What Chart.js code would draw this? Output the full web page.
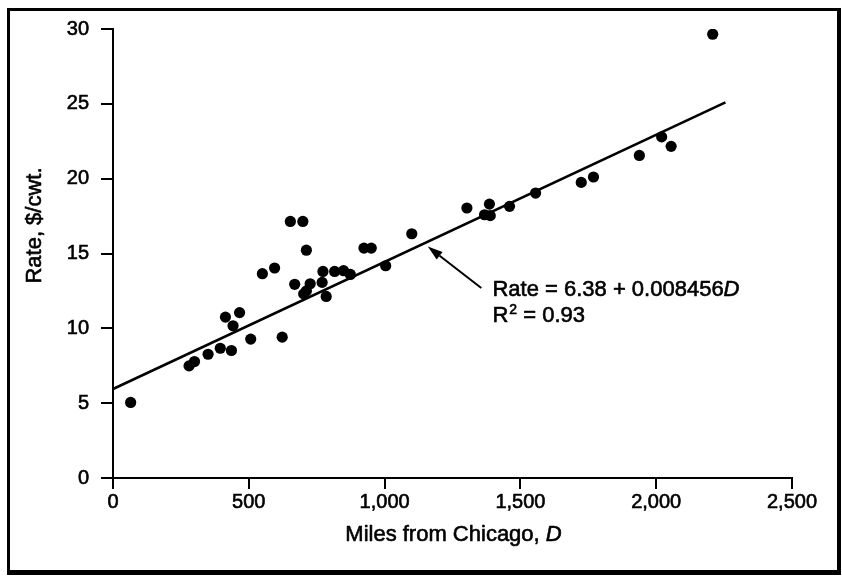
<!DOCTYPE html>
<html>
<head>
<meta charset="utf-8">
<script src="https://cdn.jsdelivr.net/npm/chart.js@4.4.1/dist/chart.umd.min.js"></script>
<style>
  html, body { margin: 0; padding: 0; background: #fff; }
  #wrap { width: 842px; height: 577px; }
</style>
</head>
<body>
<div id="wrap"><canvas id="c" width="842" height="577"></canvas></div>
<script>
// ---- data ----
const distances = [65, 280, 300, 350, 395, 436, 414, 442, 466, 507,
                   623, 550, 595, 653, 699, 712, 669, 726, 702, 712,
                   773, 770, 785, 816, 849, 874, 924, 951, 1004, 1100,
                   1303, 1386, 1368, 1389, 1460, 1556, 1724, 1769, 1938, 2020,
                   2055, 2208];
const rates = [5.05, 7.49, 7.78, 8.27, 8.67, 8.52, 10.75, 10.17, 11.05, 9.28,
               9.41, 13.65, 14.03, 17.14, 17.14, 15.22, 12.94, 12.98, 12.3, 12.5,
               13.8, 13.07, 12.13, 13.8, 13.85, 13.6, 15.36, 15.36, 14.18, 16.32,
               18.04, 18.3, 17.59, 17.53, 18.15, 19.04, 19.75, 20.11, 21.55, 22.79,
               22.16, 29.65];
const fitX = [0, 2255];
const fitY = [5.95, 25.1];
const xTickValues = [0, 500, 1000, 1500, 2000, 2500];
const xTickLabels = ['0', '500', '1,000', '1,500', '2,000', '2,500'];
const yTickValues = [0, 5, 10, 15, 20, 25, 30];
const yTickLabels = ['0', '5', '10', '15', '20', '25', '30'];
const xTitle = 'Miles from Chicago, ';
const xTitleVar = 'D';
const yTitle = 'Rate, $/cwt.';
const eqLine1 = 'Rate = 6.38 + 0.008456';
const eqVar = 'D';
const eqLine2a = 'R';
const eqLine2sup = '2';
const eqLine2b = ' = 0.93';
const arrowHead = [1159, 15.47];
const arrowTail = [1356, 12.69];
const eqAnchor = [1397, 12.15];

const FONT = "'Liberation Sans', Arial, sans-serif";
const STROKE = 0.6;

function txt(ctx, s, x, y) {
  ctx.fillText(s, x, y);
  ctx.strokeText(s, x, y);
}

const decor = {
  id: 'decor',
  beforeDraw(chart) {
    const ctx = chart.ctx;
    ctx.save();
    ctx.fillStyle = '#fff';
    ctx.fillRect(0, 0, chart.width, chart.height);
    ctx.fillStyle = '#000';
    ctx.fillRect(7, 8, 834, 3);     // top
    ctx.fillRect(7, 8, 3, 567);     // left
    ctx.fillRect(837, 8, 4, 567);   // right
    ctx.fillRect(7, 570, 834, 5);   // bottom
    ctx.restore();
  },
  afterDraw(chart) {
    const ctx = chart.ctx;
    const xs = chart.scales.x, ys = chart.scales.y;
    ctx.save();
    ctx.fillStyle = '#000';
    ctx.strokeStyle = '#000';
    ctx.lineWidth = STROKE;
    ctx.lineJoin = 'round';
    // x title
    ctx.font = '22px ' + FONT;
    const w1 = ctx.measureText(xTitle).width;
    ctx.font = 'italic 22px ' + FONT;
    const w2 = ctx.measureText(xTitleVar).width;
    const cx = (xs.left + xs.right) / 2 + 1;
    let sx = cx - (w1 + w2) / 2;
    ctx.textBaseline = 'alphabetic';
    ctx.textAlign = 'left';
    ctx.font = '22px ' + FONT;
    txt(ctx, xTitle, sx, 541);
    ctx.font = 'italic 22px ' + FONT;
    txt(ctx, xTitleVar, sx + w1, 541);
    // y title
    ctx.save();
    ctx.translate(41, 225.5);
    ctx.rotate(-Math.PI / 2);
    ctx.font = '22px ' + FONT;
    ctx.textAlign = 'center';
    ctx.textBaseline = 'alphabetic';
    txt(ctx, yTitle, 0, 0);
    ctx.restore();
    // arrow
    const hx = xs.getPixelForValue(arrowHead[0]), hy = ys.getPixelForValue(arrowHead[1]);
    const tx = xs.getPixelForValue(arrowTail[0]), ty = ys.getPixelForValue(arrowTail[1]);
    const ang = Math.atan2(hy - ty, hx - tx);
    const hl = 15, hw = 4.8;
    const bx = hx - hl * Math.cos(ang), by = hy - hl * Math.sin(ang);
    ctx.lineWidth = 2;
    ctx.beginPath();
    ctx.moveTo(tx, ty);
    ctx.lineTo(bx, by);
    ctx.stroke();
    ctx.beginPath();
    ctx.moveTo(hx, hy);
    ctx.lineTo(bx + hw * Math.sin(ang), by - hw * Math.cos(ang));
    ctx.lineTo(bx - hw * Math.sin(ang), by + hw * Math.cos(ang));
    ctx.closePath();
    ctx.fill();
    ctx.lineWidth = STROKE;
    // equation text
    const ex = xs.getPixelForValue(eqAnchor[0]);
    const ey = ys.getPixelForValue(eqAnchor[1]);
    ctx.textAlign = 'left';
    ctx.font = '22px ' + FONT;
    txt(ctx, eqLine1, ex, ey);
    const e1 = ctx.measureText(eqLine1).width;
    ctx.font = 'italic 22px ' + FONT;
    txt(ctx, eqVar, ex + e1, ey);
    const y2 = ey + 25.7;
    ctx.font = '22px ' + FONT;
    txt(ctx, eqLine2a, ex, y2);
    const r1 = ctx.measureText(eqLine2a).width;
    ctx.font = '14px ' + FONT;
    txt(ctx, eqLine2sup, ex + r1 + 1, y2 - 8);
    const r2 = ctx.measureText(eqLine2sup).width;
    ctx.font = '22px ' + FONT;
    txt(ctx, eqLine2b, ex + r1 + r2 + 1, y2);
    ctx.restore();
  }
};

const scatterPts = distances.map((d, i) => ({ x: d, y: rates[i] }));
const fitPts = fitX.map((d, i) => ({ x: d, y: fitY[i] }));

new Chart(document.getElementById('c'), {
  type: 'scatter',
  data: {
    datasets: [
      {
        type: 'line',
        data: fitPts,
        borderColor: '#000',
        borderWidth: 2.6,
        pointRadius: 0,
        fill: false,
        tension: 0
      },
      {
        data: scatterPts,
        backgroundColor: '#000',
        borderWidth: 0,
        pointRadius: 5.6
      }
    ]
  },
  options: {
    responsive: false,
    animation: false,
    devicePixelRatio: 1,
    layout: { padding: { left: 0, top: 29, right: 50, bottom: 0 } },
    plugins: { legend: { display: false }, tooltip: { enabled: false } },
    scales: {
      x: {
        type: 'linear',
        min: 0, max: 2500,
        afterFit(s) { s.height = 99; },
        afterBuildTicks(s) { s.ticks = xTickValues.map(v => ({ value: v })); },
        border: { display: true, color: '#000', width: 2 },
        grid: { display: true, drawOnChartArea: false, drawTicks: true, tickLength: 11, color: '#000', lineWidth: 2 },
        ticks: {
          color: '#000', padding: 1, maxRotation: 0, autoSkip: false,
          textStrokeColor: '#000', textStrokeWidth: STROKE,
          font: { family: FONT, size: 20 },
          callback: (v) => { const i = xTickValues.indexOf(v); return i >= 0 ? xTickLabels[i] : ''; }
        }
      },
      y: {
        type: 'linear',
        min: 0, max: 30,
        afterFit(s) { s.width = 113; },
        afterBuildTicks(s) { s.ticks = yTickValues.map(v => ({ value: v })); },
        border: { display: true, color: '#000', width: 2 },
        grid: { display: true, drawOnChartArea: false, drawTicks: true, tickLength: 12, color: '#000', lineWidth: 2 },
        ticks: {
          color: '#000', padding: 12, autoSkip: false,
          textStrokeColor: '#000', textStrokeWidth: STROKE,
          font: { family: FONT, size: 20 },
          callback: (v) => { const i = yTickValues.indexOf(v); return i >= 0 ? yTickLabels[i] : ''; }
        }
      }
    }
  },
  plugins: [decor]
});
</script>
</body>
</html>
